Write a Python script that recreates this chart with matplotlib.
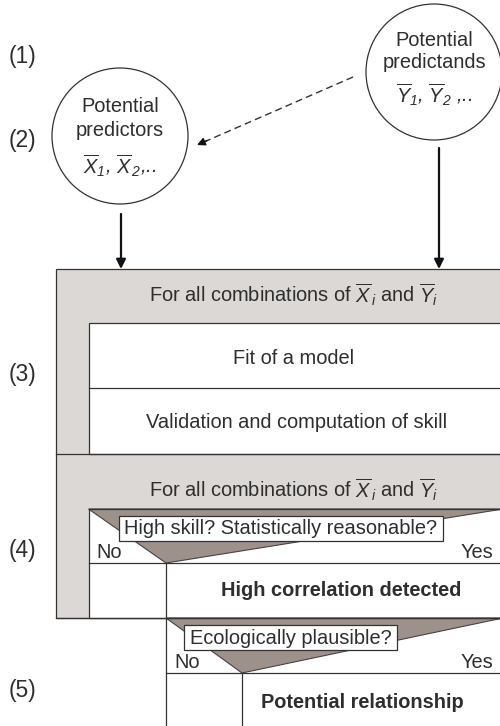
import matplotlib
matplotlib.use('Agg')
import matplotlib.pyplot as plt
from matplotlib.patches import Circle, Rectangle, Polygon

plt.rcParams['font.family'] = ['Liberation Sans', 'DejaVu Sans']
plt.rcParams['mathtext.fontset'] = 'custom'
plt.rcParams['mathtext.rm'] = 'Liberation Sans:italic'
plt.rcParams['mathtext.it'] = 'Liberation Sans:italic'
plt.rcParams['mathtext.bf'] = 'Liberation Sans:bold'

# ---- content ----
stage_labels = ['(1)', '(2)', '(3)', '(4)', '(5)']
predictor_lines = ['Potential', 'predictors', r'$\overline{X}_{1}$, $\overline{X}_{\,2}$,..']
predictand_lines = ['Potential', 'predictands', r'$\overline{Y}_{1}$, $\overline{Y}_{2}$ ,..']
loop_header = r'For all combinations of $\overline{X}_{\,i}$ and $\overline{Y}_{i}$'
loop_steps = ['Fit of a model', 'Validation and computation of skill']
decision_questions = ['High skill? Statistically reasonable?', 'Ecologically plausible?']
decision_branches = ['No', 'Yes']
decision_outcomes = ['High correlation detected', 'Potential relationship']

# ---- styles ----
TXT = '#2e2e2e'
LINE = '#333333'
GRAY = '#dcd8d6'
TAUPE = '#9d918c'
FS = 14.4
LW = 0.9

fig = plt.figure(figsize=(5, 7.26), dpi=100)
ax = fig.add_axes([0, 0, 1, 1])
ax.set_xlim(0, 500)
ax.set_ylim(726, 0)
ax.axis('off')

# stage labels
for lab, y in zip(stage_labels, [56, 140, 374, 550, 690]):
    ax.text(22, y, lab, fontsize=16.5, color=TXT, ha='center', va='center')

# circles
for (cx, cy), lines, ys in [((120, 136), predictor_lines, [107, 130, 166]),
                            ((434, 72), predictand_lines, [40, 62, 95])]:
    ax.add_patch(Circle((cx, cy), 68, fc='white', ec=LINE, lw=LW, zorder=2))
    for k, (t, y) in enumerate(zip(lines, ys)):
        ax.text(cx, y, t, fontsize=FS, color=TXT, ha='center', va='center',
                style='italic' if k == 2 else 'normal', zorder=3)

# dashed arrow
ax.plot([353, 205], [77, 141.5], ls=(0, (5, 3)), color=LINE, lw=1.0)
ax.annotate('', xy=(197, 145), xytext=(207, 140.6),
            arrowprops=dict(arrowstyle='-|>', color='#111', lw=1.0,
                            mutation_scale=12, shrinkA=0, shrinkB=0))

# solid arrows
for x, y0 in [(121, 214), (439, 148)]:
    ax.annotate('', xy=(x, 269), xytext=(x, y0),
                arrowprops=dict(arrowstyle='-|>', color='#111', lw=1.6,
                                mutation_scale=14, shrinkA=0, shrinkB=0))

# gray loop boxes
ax.add_patch(Rectangle((55.5, 269), 460, 349, fc=GRAY, ec=LINE, lw=LW))
ax.plot([55.5, 510], [454, 454], color=LINE, lw=LW)
ax.add_patch(Rectangle((88.5, 323), 430, 131, fc='white', ec=LINE, lw=LW))
ax.plot([88.5, 510], [388, 388], color=LINE, lw=LW)
ax.add_patch(Rectangle((88.5, 509), 430, 109, fc='white', ec=LINE, lw=LW))

ax.text(294, 295, loop_header, fontsize=FS, color=TXT, ha='center', va='center')
ax.text(294, 490, loop_header, fontsize=FS, color=TXT, ha='center', va='center')
ax.text(294, 358, loop_steps[0], fontsize=FS, color=TXT, ha='center', va='center')
ax.text(297, 422, loop_steps[1], fontsize=FS, color=TXT, ha='center', va='center')

# decisions
decisions = [
    dict(x0=88.5, y0=509, apex=(166, 563), box=(119, 516, 443, 541), out_x=341, out_y=590),
    dict(x0=166, y0=618, apex=(242, 673), box=(184, 625, 397, 650), out_x=362, out_y=703),
]
for d, q, outc in zip(decisions, decision_questions, decision_outcomes):
    ax0, ay0 = d['x0'], d['y0']
    px, py = d['apex']
    ax.add_patch(Polygon([(ax0, ay0), (503, ay0), (px, py)], closed=True,
                         fc=TAUPE, ec='#4a4240', lw=0.8, zorder=2))
    ax.plot([ax0, 510], [ay0, ay0], color=LINE, lw=LW, zorder=3)
    ax.plot([ax0, 510], [py, py], color=LINE, lw=LW, zorder=3)
    ax.plot([px, px], [py, 730], color=LINE, lw=LW, zorder=3)
    bx0, by0, bx1, by1 = d['box']
    ax.add_patch(Rectangle((bx0, by0), bx1 - bx0, by1 - by0, fc='white',
                           ec=LINE, lw=LW, zorder=4))
    ax.text((bx0 + bx1) / 2, (by0 + by1) / 2 + 0.5, q, fontsize=FS, color=TXT,
            ha='center', va='center', zorder=5)
    ax.text(ax0 + 8, py - 10, decision_branches[0], fontsize=FS, color=TXT,
            ha='left', va='center', zorder=5)
    ax.text(493, py - 10, decision_branches[1], fontsize=FS, color=TXT,
            ha='right', va='center', zorder=5)
    ax.text(d['out_x'], d['out_y'], outc, fontsize=FS, color=TXT,
            fontweight='bold', ha='center', va='center', zorder=5)

# gray box bottom line (drawn over white)
ax.plot([55.5, 510], [618, 618], color=LINE, lw=LW, zorder=3)

fig.savefig('out.png', dpi=100)
